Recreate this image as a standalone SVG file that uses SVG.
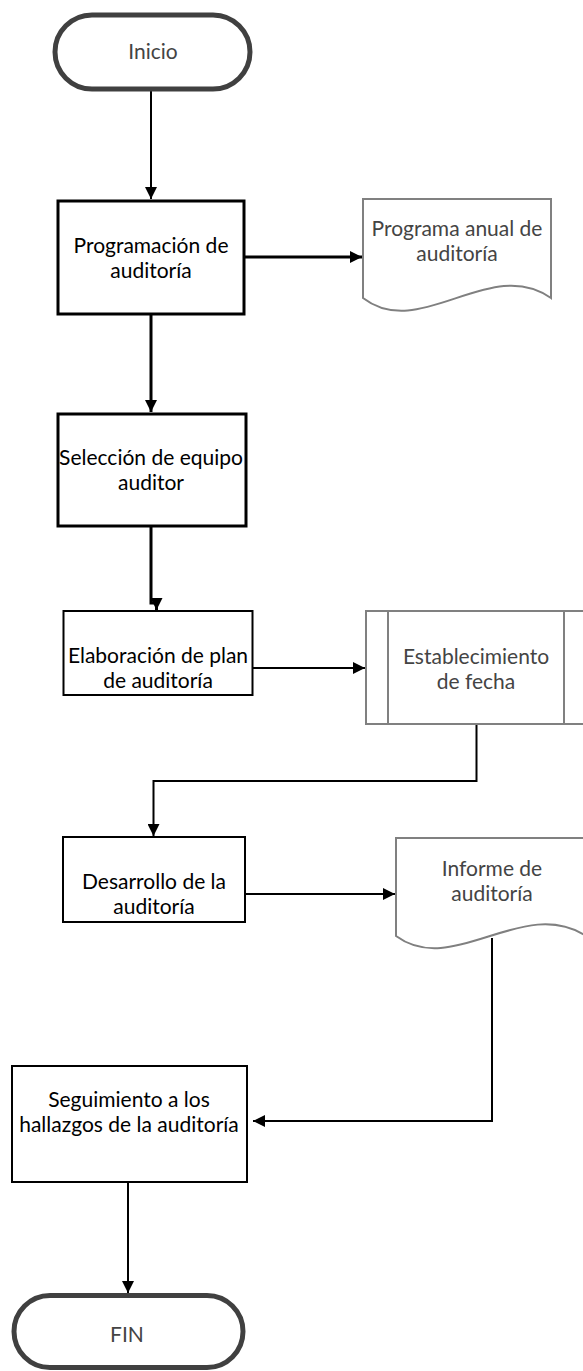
<svg xmlns="http://www.w3.org/2000/svg" width="583" height="1371" viewBox="0 0 583 1371">
<style>
.t{font-family:Lato,"Open Sans","Liberation Sans",sans-serif;font-size:21px;text-anchor:middle}
.blk{fill:#000}
.dk{fill:#444}
.term{fill:#fff;stroke:#404040;stroke-width:5}
.b3{fill:#fff;stroke:#000;stroke-width:3}
.b2{fill:#fff;stroke:#000;stroke-width:2}
.gr{fill:#fff;stroke:#808080;stroke-width:2}
.c3{fill:none;stroke:#000;stroke-width:3}
.c2{fill:none;stroke:#000;stroke-width:2}
</style>
<defs>
<marker id="ah" viewBox="0 0 12 12" refX="12" refY="6" markerWidth="12" markerHeight="12" markerUnits="userSpaceOnUse" orient="auto">
<path d="M0,0 L12,6 L0,12 Z" fill="#000"/>
</marker>
</defs>
<rect width="583" height="1371" fill="#fff"/>
<g id="connectors">
<path class="c2" d="M151,89 V199" marker-end="url(#ah)"/>
<path class="c3" d="M244,257 H362" marker-end="url(#ah)"/>
<path class="c3" d="M151,315 V412" marker-end="url(#ah)"/>
<path class="c3" d="M151,527 V603 H156.5 V610" marker-end="url(#ah)"/>
<path class="c2" d="M253,668 H365" marker-end="url(#ah)"/>
<path class="c2" d="M476.5,724 V781 H153.5 V836" marker-end="url(#ah)"/>
<path class="c2" d="M245,894 H395" marker-end="url(#ah)"/>
<path class="c2" d="M492,938 V1121 H253" marker-end="url(#ah)"/>
<path class="c2" d="M128,1182 V1293" marker-end="url(#ah)"/>
</g>
<g id="inicio">
<rect class="term" x="55" y="15" width="195" height="74" rx="37"/>
<text class="t dk" x="153" y="59">Inicio</text>
</g>
<g id="programacion">
<rect class="b3" x="58" y="201" width="186" height="113"/>
<text class="t blk" x="151" y="253">Programación de<tspan x="151" dy="25">auditoría</tspan></text>
</g>
<g id="programa-anual">
<path class="gr" d="M363,298 V199 H551 V298 C490,255 420,342 363,298 Z"/>
<text class="t dk" x="457" y="236">Programa anual de<tspan x="457" dy="25">auditoría</tspan></text>
</g>
<g id="seleccion">
<rect class="b3" x="58" y="414" width="188" height="112"/>
<text class="t blk" x="151" y="465">Selección de equipo<tspan x="151" dy="25">auditor</tspan></text>
</g>
<g id="elaboracion">
<rect class="b2" x="63.5" y="611" width="189" height="84"/>
<text class="t blk" x="158" y="663">Elaboración de plan<tspan x="158" dy="25">de auditoría</tspan></text>
</g>
<g id="establecimiento">
<rect class="gr" x="366" y="611" width="220" height="113"/>
<line x1="388" y1="611" x2="388" y2="724" stroke="#808080" stroke-width="2"/>
<line x1="564" y1="611" x2="564" y2="724" stroke="#808080" stroke-width="2"/>
<text class="t dk" x="476" y="664">Establecimiento<tspan x="476" dy="25">de fecha</tspan></text>
</g>
<g id="desarrollo">
<rect class="b2" x="63" y="837" width="182" height="85"/>
<text class="t blk" x="154" y="889">Desarrollo de la<tspan x="154" dy="25">auditoría</tspan></text>
</g>
<g id="informe">
<path class="gr" d="M396,936 V838 H586 V936 C523,895 453,978 396,936 Z"/>
<text class="t dk" x="492" y="876">Informe de<tspan x="492" dy="25">auditoría</tspan></text>
</g>
<g id="seguimiento">
<rect class="b2" x="12" y="1066" width="235" height="116"/>
<text class="t blk" x="129" y="1107">Seguimiento a los<tspan x="129" dy="25">hallazgos de la auditoría</tspan></text>
</g>
<g id="fin">
<rect class="term" x="14" y="1295.5" width="229" height="72" rx="36"/>
<text class="t dk" x="127" y="1342">FIN</text>
</g>
</svg>
